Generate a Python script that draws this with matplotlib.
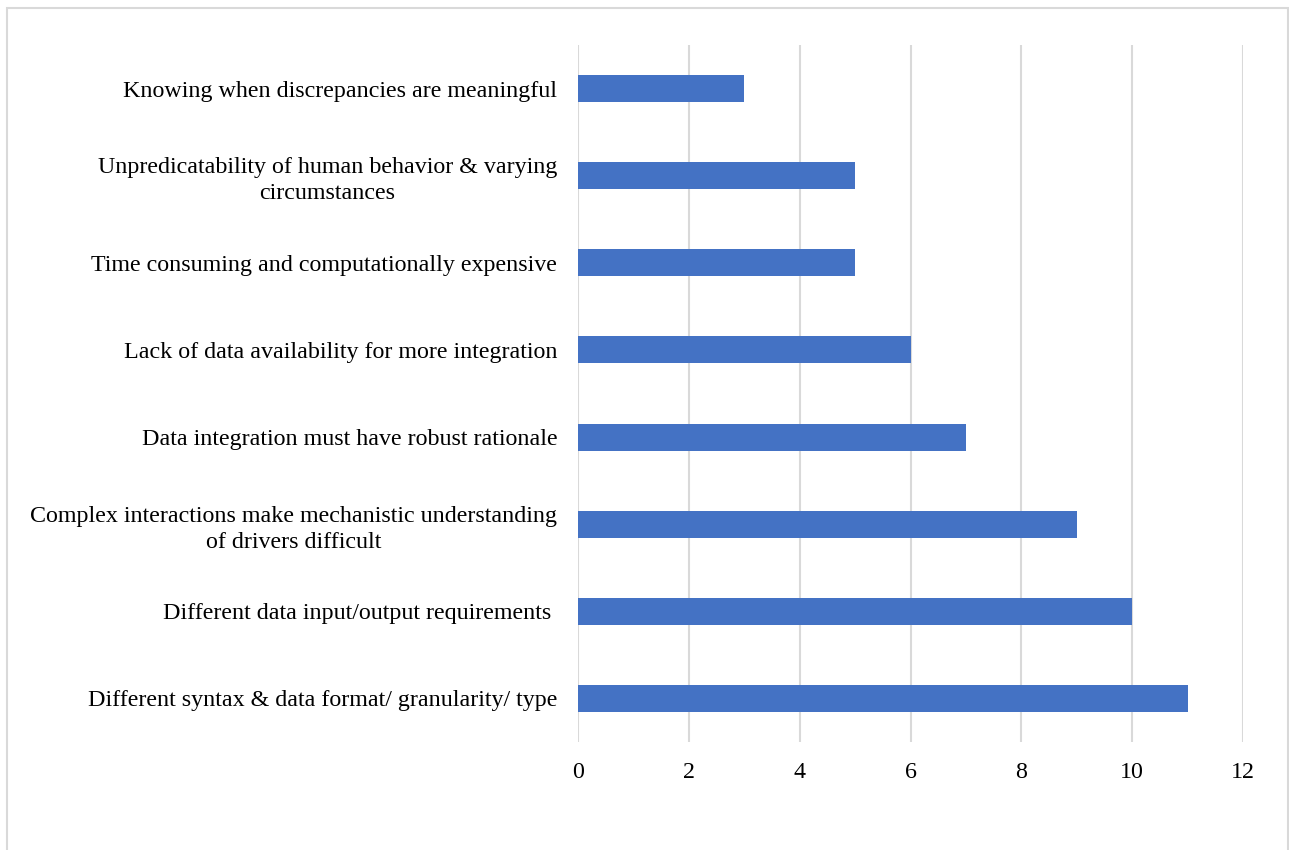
import matplotlib.pyplot as plt
from matplotlib.patches import Rectangle

# categories listed bottom to top
motivos = [
    "Different syntax & data format/ granularity/ type",
    "Different data input/output requirements ",
    "Complex interactions make mechanistic understanding\nof drivers difficult",
    "Data integration must have robust rationale",
    "Lack of data availability for more integration",
    "Time consuming and computationally expensive",
    "Unpredicatability of human behavior & varying\ncircumstances",
    "Knowing when discrepancies are meaningful",
]
quantidades = [11, 10, 9, 7, 6, 5, 5, 3]
xticks = [0, 2, 4, 6, 8, 10, 12]

plt.rcParams['font.family'] = ['Liberation Serif', 'DejaVu Serif']

fig = plt.figure(figsize=(12.89, 8.5), dpi=100)
ax = fig.add_axes([578 / 1289, 1 - 742 / 850, 665 / 1289, 697 / 850])

pos = list(range(len(motivos)))
ax.barh(pos, quantidades, height=0.31, color="#4472C4", zorder=3)

ax.set_xlim(0, 12)
ax.set_ylim(-0.5, len(motivos) - 0.5)
ax.set_xticks(xticks)
ax.set_xticklabels([str(t) for t in xticks], fontsize=17.3)
ax.set_yticks(pos)
ax.set_yticklabels(motivos, fontsize=17.3, multialignment="center", linespacing=1.33)
ax.tick_params(axis="both", length=0)
ax.tick_params(axis="y", pad=15)
ax.tick_params(axis="x", pad=14.5)
ax.grid(axis="x", color="#d9d9d9", linewidth=1.5, zorder=0)
for s in ax.spines.values():
    s.set_visible(False)

# light border round the chart area
fig.patches.append(Rectangle((7 / 1289, -0.05), 1281 / 1289, 1 - 8 / 850 + 0.05,
                             transform=fig.transFigure, fill=False,
                             edgecolor="#d9d9d9", linewidth=1.5))

fig.savefig("out.png", dpi=100)
plt.close(fig)
